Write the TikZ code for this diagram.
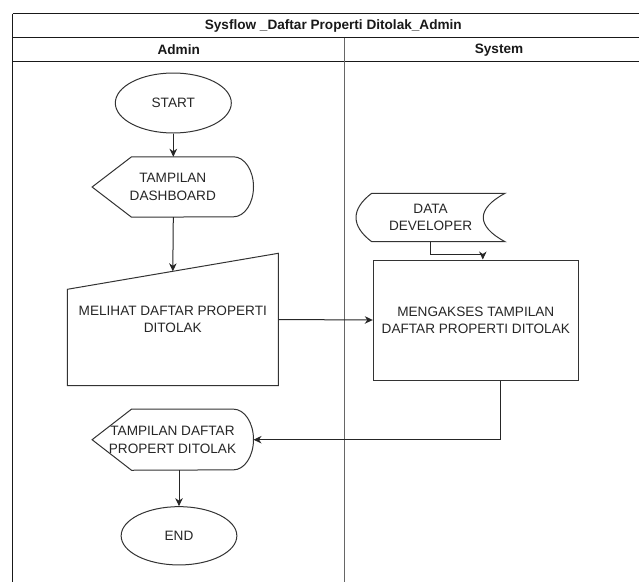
\documentclass[tikz,border=0pt]{standalone}
\usepackage{fontspec}
\setmainfont{Liberation Sans}
\usetikzlibrary{arrows.meta,calc,shapes.geometric}

\tikzset{
  txt/.style={font=\fontsize{13.6}{17.3}\selectfont, text=black!85, align=center, inner sep=0pt},
  hdr/.style={font=\bfseries\fontsize{13.6}{16}\selectfont, text=black!90, inner sep=0pt},
  frameline/.style={line width=1.2pt, draw=black!90},
  laneline/.style={line width=1.2pt, draw=black!60},
  shapeline/.style={line width=1pt, draw=black!80, fill=white},
  flow/.style={line width=1pt, draw=black!85, -{Stealth[length=8pt,width=7.5pt,inset=2.5pt]}},
}

\begin{document}
\begin{tikzpicture}[x=1pt,y=-1pt]
  \useasboundingbox (0,0) rectangle (639,581);
  \clip (0,0) rectangle (639,581);

  % swimlane frame
  \draw[frameline] (12.7,13.7) -- (660,13.7);
  \draw[frameline] (12.7,37.7) -- (660,37.7);
  \draw[frameline] (12.7,61.7) -- (660,61.7);
  \draw[frameline] (12.7,13.7) -- (12.7,590);
  \draw[laneline] (344.7,37.7) -- (344.7,590);

  \node[hdr] (title) at (333.3,25.9) {Sysflow \_Daftar Properti Ditolak\_Admin};
  \node[hdr] (laneA) at (178.7,49.9) {Admin};
  \node[hdr] (laneS) at (499,49.9) {System};

  % START
  \node[shapeline, ellipse, minimum width=116pt, minimum height=60pt, txt] (start) at (173.3,103) {START};

  % display: TAMPILAN DASHBOARD
  \node[txt, minimum width=161pt, minimum height=60pt] (dash) at (172.8,187) {};
  \draw[shapeline] (dash.west) -- ([xshift=39.4pt]dash.north west) -- ([xshift=-20pt]dash.north east)
    arc[start angle=90, end angle=-90, x radius=20pt, y radius=30pt]
    -- ([xshift=39.4pt]dash.south west) -- cycle;
  \node[txt] (dashtext) at (dash.center) {TAMPILAN\\DASHBOARD};

  % manual input: MELIHAT DAFTAR PROPERTI DITOLAK
  \coordinate (mtl) at (67.3,289.3);
  \coordinate (mtr) at (278.3,253.3);
  \coordinate (mbr) at (278.3,385.7);
  \coordinate (mbl) at (67.3,385.7);
  \draw[shapeline] (mtl) -- (mtr) -- (mbr) -- (mbl) -- cycle;
  \node[txt, minimum width=211pt, minimum height=132.4pt] (mel) at (172.8,319.5) {MELIHAT DAFTAR PROPERTI\\DITOLAK};

  % stored data: DATA DEVELOPER
  \coordinate (dtl) at (371.7,193.3);
  \coordinate (dtr) at (505,193.3);
  \coordinate (dbr) at (505,241.7);
  \coordinate (dbl) at (371.7,241.7);
  \draw[shapeline] (dtl) -- (dtr) .. controls (476,209) and (476,226) .. (dbr)
    -- (dbl) .. controls (350.8,226) and (350.8,209) .. (dtl) -- cycle;
  \node[txt, minimum width=149pt, minimum height=48.4pt] (data) at (430.6,217.5) {DATA\\DEVELOPER};

  % process: MENGAKSES TAMPILAN DAFTAR PROPERTI DITOLAK
  \node[shapeline, rectangle, minimum width=205pt, minimum height=120pt, txt] (proc) at (475.8,320)
    {MENGAKSES TAMPILAN\\DAFTAR PROPERTI DITOLAK};

  % display: TAMPILAN DAFTAR PROPERT DITOLAK
  \node[txt, minimum width=161pt, minimum height=60.7pt] (out) at (172.8,439.7) {};
  \draw[shapeline] (out.west) -- ([xshift=39.4pt]out.north west) -- ([xshift=-20pt]out.north east)
    arc[start angle=90, end angle=-90, x radius=20pt, y radius=30.35pt]
    -- ([xshift=39.4pt]out.south west) -- cycle;
  \node[txt] (outtext) at (172.5,440) {TAMPILAN DAFTAR\\PROPERT DITOLAK};

  % END
  \node[shapeline, ellipse, minimum width=115.7pt, minimum height=58.3pt, txt] (end) at (179,535.8) {END};

  % connectors
  \draw[flow] (start.south) -- (start.south |- dash.north);
  \draw[flow] (start.south |- dash.south) -- ($(mtl)!0.5!(mtr)$);
  \draw[flow] (mel.east) -- (proc.west);
  \draw[flow] (data.south) -- ++(0,12.3) -| ([xshift=7pt]proc.north);
  \draw[flow] ([xshift=24.2pt]proc.south) |- (out.east);
  \draw[flow] (end.north |- out.south) -- (end.north);
\end{tikzpicture}
\end{document}
